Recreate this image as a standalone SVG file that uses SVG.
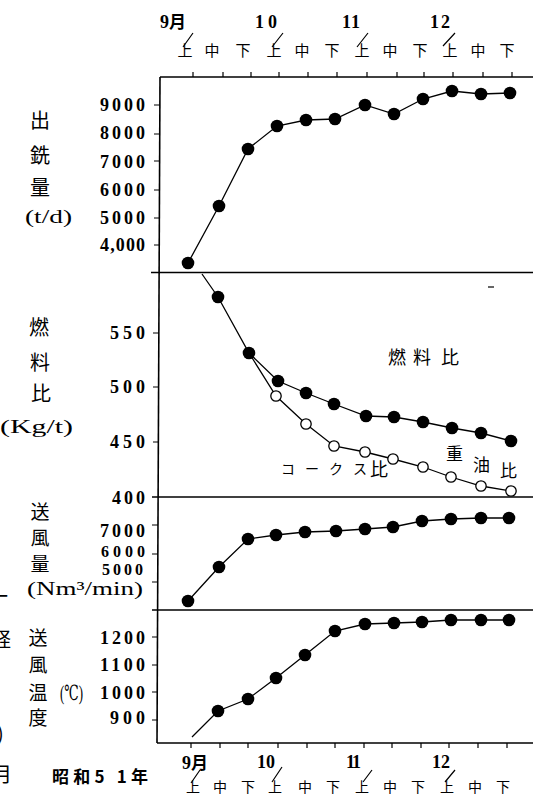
<svg xmlns="http://www.w3.org/2000/svg" width="533" height="796" viewBox="0 0 533 796">
<style>
.ax{stroke:#000;stroke-width:1.6;fill:none}
.tk{stroke:#000;stroke-width:1.2;fill:none}
.ln{stroke:#000;stroke-width:1.3;fill:none}
.fd{fill:#000}
.op{fill:#fff;stroke:#000;stroke-width:1.3}
.num{font-family:"Liberation Serif","DejaVu Serif",serif;font-weight:bold;font-size:18px;fill:#000}
.jp{font-family:"Noto Sans CJK JP","Noto Sans CJK SC",sans-serif;font-size:20px;fill:#000}
.jps{font-family:"Noto Sans CJK JP","Noto Sans CJK SC",sans-serif;font-size:15px;fill:#000}
.unit{font-family:"Liberation Serif","DejaVu Serif","Noto Sans CJK JP",serif;font-size:19px;fill:#000}
</style>
<rect width="533" height="796" fill="#fff"/>

<g id="axes">
<line class="ax" x1="160" y1="77" x2="157" y2="743"/>
<line class="ax" x1="160" y1="77" x2="533" y2="77"/>
<line class="ax" x1="151" y1="272.5" x2="533" y2="272.5"/>
<line class="ax" x1="152" y1="497" x2="533" y2="497"/>
<line class="ax" x1="152" y1="610" x2="533" y2="610"/>
<line class="ax" x1="157" y1="743" x2="533" y2="743"/>
<g class="tk">
<path d="M193 72V77M223 72V77M251 72V77M279 72V77M308 72V77M337 72V77M367 72V77M397 72V77M424 72V77M453 72V77M483 72V77M512 72V77"/>
<path d="M191 743V748M220 743V748M248 743V748M278 743V748M307 743V748M335 743V748M364 743V748M392 743V748M421 743V748M449 743V748M478 743V748M507 743V748"/>
<path d="M154 105H160M154 134H160M154 161H160M154 190H160M154 218H160M154 245H160"/>
<path d="M153 333H159M153 387H159M153 442H159"/>
<path d="M152 525H158M152 554H158M152 582H158"/>
<path d="M152 637H158M152 665H158M152 692H158M152 720H158"/>
<path d="M488 287H494"/>
</g>
</g>

<g id="top-labels">
<text class="num" x="160" y="28">9<tspan class="jps" style="font-size:17px;font-weight:bold">月</tspan></text>
<text class="num" x="255" y="28" textLength="22" lengthAdjust="spacing">10</text>
<text class="num" x="342" y="28" textLength="18" lengthAdjust="spacing">11</text>
<text class="num" x="430" y="28" textLength="20" lengthAdjust="spacing">12</text>
<g class="jps" text-anchor="middle">
<text x="185" y="56">上</text><text x="212" y="56">中</text><text x="243" y="56">下</text>
<text x="274" y="56">上</text><text x="302" y="56">中</text><text x="332" y="56">下</text>
<text x="362" y="56">上</text><text x="390" y="56">中</text><text x="420" y="56">下</text>
<text x="450" y="56">上</text><text x="478" y="56">中</text><text x="507" y="56">下</text>
</g>
<path class="tk" d="M193 33L183 47M283 33L272 47M368 33L357 47M455 33L443 46"/>
</g>

<g id="bottom-labels">
<text class="num" x="182" y="769">9<tspan class="jps" style="font-size:17px;font-weight:bold">月</tspan></text>
<text class="num" x="257" y="768" textLength="18" lengthAdjust="spacing">10</text>
<text class="num" x="346" y="768" textLength="15" lengthAdjust="spacing">11</text>
<text class="num" x="432" y="768" textLength="18" lengthAdjust="spacing">12</text>
<g class="jps" text-anchor="middle" style="font-size:14px">
<text x="193" y="792">上</text><text x="220" y="792">中</text><text x="248" y="792">下</text>
<text x="275" y="792">上</text><text x="305" y="792">中</text><text x="333" y="792">下</text>
<text x="362" y="792">上</text><text x="390" y="792">中</text><text x="418" y="792">下</text>
<text x="447" y="792">上</text><text x="475" y="792">中</text><text x="503" y="792">下</text>
</g>
<path class="tk" d="M200 770L191 783M282 767L272 782M372 770L363 782M455 770L445 782"/>
<text class="jp" x="52" y="783" textLength="96" lengthAdjust="spacing" style="font-size:17px;font-weight:bold">昭和5 1年</text>
</g>

<g id="panel-iron" >
<g class="num">
<text x="100" y="111" textLength="45" lengthAdjust="spacing">9000</text>
<text x="100" y="139" textLength="45" lengthAdjust="spacing">8000</text>
<text x="100" y="168" textLength="45" lengthAdjust="spacing">7000</text>
<text x="100" y="196" textLength="45" lengthAdjust="spacing">6000</text>
<text x="100" y="224" textLength="45" lengthAdjust="spacing">5000</text>
<text x="100" y="251" textLength="45" lengthAdjust="spacing">4,000</text>
</g>
<g class="jp" text-anchor="middle">
<text x="40" y="127.5">出</text>
<text x="40" y="162.5">銑</text>
<text x="40" y="194.5">量</text>
</g>
<text class="unit" x="25" y="223" textLength="47" lengthAdjust="spacingAndGlyphs">(t/d)</text>
</g>

<g id="panel-fuel">
<g class="num">
<text x="110" y="339" textLength="35" lengthAdjust="spacing">550</text>
<text x="110" y="393" textLength="35" lengthAdjust="spacing">500</text>
<text x="110" y="448" textLength="35" lengthAdjust="spacing">450</text>
<text x="112" y="503.5" textLength="33" lengthAdjust="spacing">400</text>
</g>
<g class="jp" text-anchor="middle">
<text x="39" y="334.5">燃</text>
<text x="40" y="369.5">料</text>
<text x="41" y="400.5">比</text>
</g>
<text class="unit" x="0" y="433" textLength="73" lengthAdjust="spacingAndGlyphs">(Kg/t)</text>
<g class="jp" style="font-size:18px">
<text x="388" y="364">燃</text>
<text x="413" y="364">料</text>
<text x="441" y="364">比</text>
<text x="446" y="460" style="font-size:17px">重</text>
<text x="473" y="471" style="font-size:17px">油</text>
<text x="500" y="477" style="font-size:17px">比</text>
<text x="370" y="476">比</text>
</g>
<g class="jps" style="font-size:14px">
<text x="281" y="474">コ</text>
<text x="305" y="474">ー</text>
<text x="329" y="474">ク</text>
<text x="353" y="474">ス</text>
</g>
</g>

<g id="panel-blast-volume">
<g class="num">
<text x="100" y="537" textLength="45" lengthAdjust="spacing">7000</text>
<text x="101" y="557" textLength="44" lengthAdjust="spacing" style="font-size:16px">6000</text>
<text x="102" y="574.5" textLength="41" lengthAdjust="spacing" style="font-size:16px">5000</text>
</g>
<g class="jp" text-anchor="middle" style="font-size:19px">
<text x="40" y="519">送</text>
<text x="40" y="545">風</text>
<text x="40" y="571">量</text>
</g>
<text class="unit" x="27" y="595" textLength="116" lengthAdjust="spacingAndGlyphs">(Nm³/min)</text>
</g>

<g id="panel-blast-temp">
<g class="num">
<text x="100" y="644" textLength="45" lengthAdjust="spacing">1200</text>
<text x="100" y="671" textLength="45" lengthAdjust="spacing">1100</text>
<text x="100" y="699" textLength="45" lengthAdjust="spacing">1000</text>
<text x="110" y="724" textLength="35" lengthAdjust="spacing">900</text>
</g>
<g class="jp" text-anchor="middle" style="font-size:19px">
<text x="38" y="645">送</text>
<text x="38" y="672">風</text>
<text x="38" y="699.5">温</text>
<text x="38" y="725">度</text>
</g>
<text class="unit" x="60" y="700" textLength="23" lengthAdjust="spacingAndGlyphs" style="font-size:21px">(℃)</text>
</g>

<g id="edge-fragments" class="jp">
<text x="-12" y="604">一</text>
<text x="-9" y="647">経</text>
<text x="-3" y="741">)</text>
<text x="-8" y="782">月</text>
</g>

<g id="connectors">
<polyline class="ln" points="188,263 219,206 248,149 277,126 306,120 335,119 365,105 394,114 423,99 452,91 481,94 510,93"/>
<polyline class="ln" points="202,274 218,297 249,353 278,381 306,393 334,404 366,416 394,417 423,422 452,428 481,433 511,441"/>
<polyline class="ln" points="249,353 276,396 306,424 334,446 365,452 393,459 423,467 451,477 481,486 511,491"/>
<polyline class="ln" points="188,601 219,567 248,539 276,535 305,532 336,531 365,529 393,527 422,521 451,519 481,518 509,518"/>
<polyline class="ln" points="192,737 218,711 248,699 276,678 305,655 335,631 365,624 394,623 422,622 451,620 481,620 509,620"/>
</g>

<g id="series-iron" class="fd">
<circle cx="188" cy="263" r="6.3"/><circle cx="219" cy="206" r="6.3"/><circle cx="248" cy="149" r="6.3"/><circle cx="277" cy="126" r="6.3"/><circle cx="306" cy="120" r="6.3"/><circle cx="335" cy="119" r="6.3"/><circle cx="365" cy="105" r="6.3"/><circle cx="394" cy="114" r="6.3"/><circle cx="423" cy="99" r="6.3"/><circle cx="452" cy="91" r="6.3"/><circle cx="481" cy="94" r="6.3"/><circle cx="510" cy="93" r="6.3"/>
</g>
<g id="series-fuel" class="fd">
<circle cx="218" cy="297" r="6.3"/><circle cx="249" cy="353" r="6.3"/><circle cx="278" cy="381" r="6.3"/><circle cx="306" cy="393" r="6.3"/><circle cx="334" cy="404" r="6.3"/><circle cx="366" cy="416" r="6.3"/><circle cx="394" cy="417" r="6.3"/><circle cx="423" cy="422" r="6.3"/><circle cx="452" cy="428" r="6.3"/><circle cx="481" cy="433" r="6.3"/><circle cx="511" cy="441" r="6.3"/>
</g>
<g id="series-coke" class="op">
<circle cx="276" cy="396" r="5.2"/><circle cx="306" cy="424" r="5.2"/><circle cx="334" cy="446" r="5.2"/><circle cx="365" cy="452" r="5.2"/><circle cx="393" cy="459" r="5.2"/><circle cx="423" cy="467" r="5.2"/><circle cx="451" cy="477" r="5.2"/><circle cx="481" cy="486" r="5.2"/><circle cx="511" cy="491" r="5.2"/>
</g>
<g id="series-blast-volume" class="fd">
<circle cx="188" cy="601" r="6.3"/><circle cx="219" cy="567" r="6.3"/><circle cx="248" cy="539" r="6.3"/><circle cx="276" cy="535" r="6.3"/><circle cx="305" cy="532" r="6.3"/><circle cx="336" cy="531" r="6.3"/><circle cx="365" cy="529" r="6.3"/><circle cx="393" cy="527" r="6.3"/><circle cx="422" cy="521" r="6.3"/><circle cx="451" cy="519" r="6.3"/><circle cx="481" cy="518" r="6.3"/><circle cx="509" cy="518" r="6.3"/>
</g>
<g id="series-blast-temp" class="fd">
<circle cx="218" cy="711" r="6.3"/><circle cx="248" cy="699" r="6.3"/><circle cx="276" cy="678" r="6.3"/><circle cx="305" cy="655" r="6.3"/><circle cx="335" cy="631" r="6.3"/><circle cx="365" cy="624" r="6.3"/><circle cx="394" cy="623" r="6.3"/><circle cx="422" cy="622" r="6.3"/><circle cx="451" cy="620" r="6.3"/><circle cx="481" cy="620" r="6.3"/><circle cx="509" cy="620" r="6.3"/>
</g>
</svg>
